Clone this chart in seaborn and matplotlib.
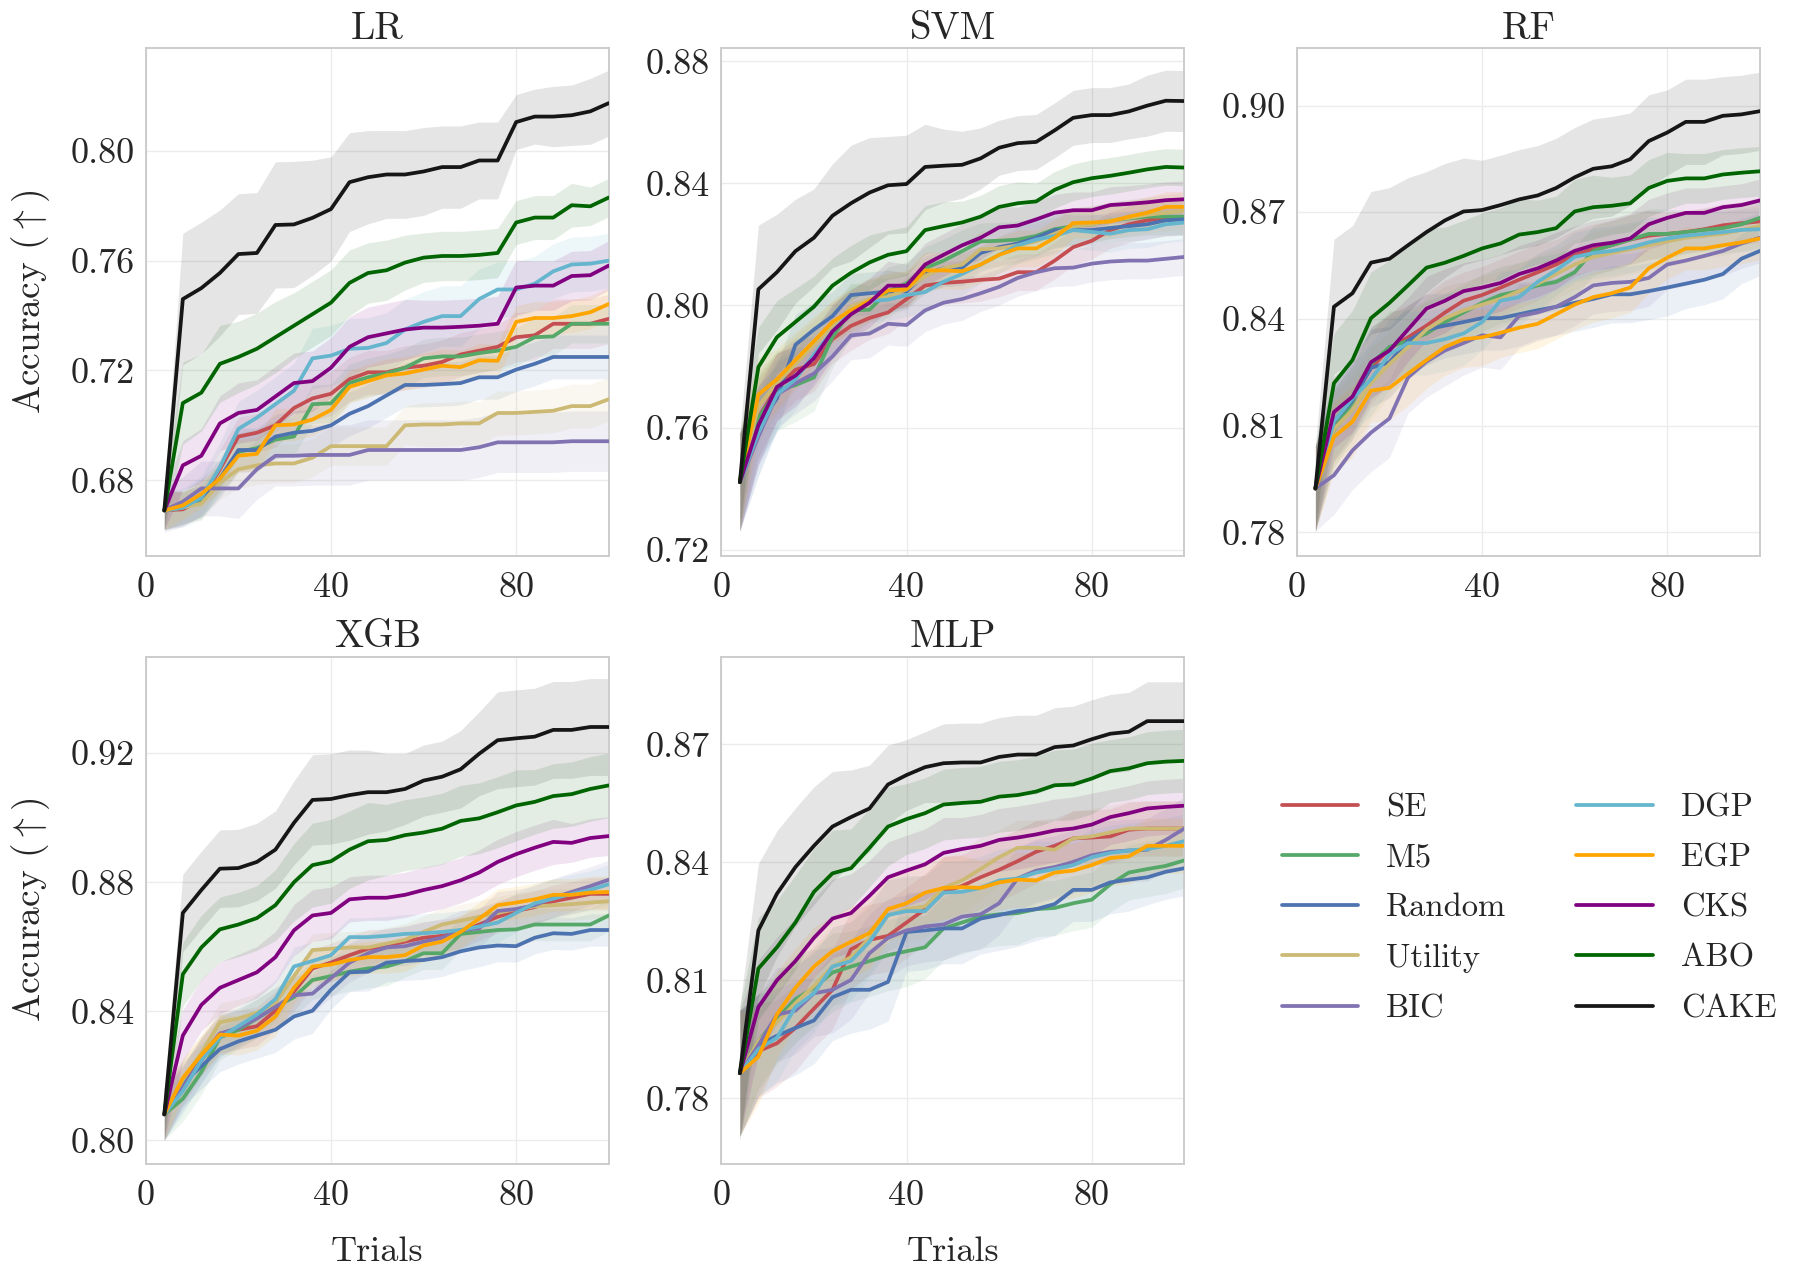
import matplotlib
matplotlib.use("Agg")
import matplotlib.pyplot as plt
from matplotlib.lines import Line2D
import numpy as np
import pandas as pd
import seaborn as sns

# ---------------- data ----------------
TRIALS = [4, 8, 12, 16, 20, 24, 28, 32, 36, 40, 44, 48, 52, 56, 60, 64, 68, 72, 76, 80, 84, 88, 92, 96, 100]
METHODS = ["SE", "M5", "Random", "Utility", "BIC", "DGP", "EGP", "CKS", "ABO", "CAKE"]
PANELS = ["LR", "SVM", "RF", "XGB", "MLP"]

LR_MEAN = {
    "SE": [0.669, 0.6694, 0.6729, 0.684, 0.6959, 0.6973, 0.700, 0.7063, 0.7098, 0.7115, 0.7168, 0.7193, 0.7193, 0.721, 0.7217, 0.7231, 0.7258, 0.7272, 0.7286, 0.7321, 0.7328, 0.737, 0.737, 0.737, 0.7388],
    "M5": [0.669, 0.670, 0.6722, 0.6806, 0.6903, 0.6917, 0.6948, 0.6959, 0.7077, 0.708, 0.7154, 0.7175, 0.7189, 0.721, 0.7244, 0.7251, 0.7251, 0.7263, 0.7272, 0.7286, 0.7321, 0.7324, 0.737, 0.737, 0.737],
    "Random": [0.669, 0.670, 0.6736, 0.6806, 0.691, 0.691, 0.6959, 0.6973, 0.698, 0.700, 0.7042, 0.707, 0.7109, 0.7147, 0.7147, 0.715, 0.7154, 0.7175, 0.7175, 0.7203, 0.7224, 0.7249, 0.7249, 0.7249, 0.7249],
    "Utility": [0.669, 0.670, 0.6715, 0.6791, 0.684, 0.6854, 0.6861, 0.6861, 0.6882, 0.6924, 0.6924, 0.6924, 0.6924, 0.700, 0.7003, 0.7003, 0.7007, 0.7007, 0.7045, 0.7045, 0.7049, 0.7053, 0.707, 0.707, 0.7095],
    "BIC": [0.669, 0.6722, 0.677, 0.677, 0.677, 0.684, 0.6889, 0.6889, 0.6892, 0.6892, 0.6892, 0.691, 0.691, 0.691, 0.691, 0.691, 0.691, 0.692, 0.6938, 0.6938, 0.6938, 0.6938, 0.6942, 0.6942, 0.6942],
    "DGP": [0.669, 0.670, 0.6736, 0.6847, 0.6987, 0.7028, 0.7077, 0.7126, 0.7244, 0.7254, 0.7279, 0.7282, 0.730, 0.7349, 0.7377, 0.7398, 0.7398, 0.746, 0.7495, 0.7495, 0.7516, 0.7561, 0.7586, 0.7589, 0.760],
    "EGP": [0.669, 0.6708, 0.675, 0.6806, 0.6889, 0.6896, 0.700, 0.7003, 0.7021, 0.7056, 0.714, 0.7161, 0.7182, 0.7189, 0.7203, 0.7217, 0.7212, 0.7237, 0.7235, 0.7377, 0.7391, 0.7391, 0.7398, 0.7412, 0.7442],
    "CKS": [0.669, 0.6854, 0.6889, 0.7007, 0.7045, 0.7056, 0.7105, 0.7154, 0.7161, 0.721, 0.7286, 0.7321, 0.7335, 0.7349, 0.7356, 0.7356, 0.7359, 0.7363, 0.737, 0.7502, 0.7509, 0.7509, 0.7544, 0.7547, 0.7582],
    "ABO": [0.669, 0.7081, 0.7119, 0.7224, 0.7249, 0.7279, 0.7321, 0.7363, 0.7405, 0.7447, 0.7519, 0.7555, 0.7565, 0.7593, 0.7611, 0.7617, 0.7617, 0.7621, 0.7628, 0.7739, 0.7757, 0.7757, 0.7802, 0.7798, 0.783],
    "CAKE": [0.669, 0.746, 0.750, 0.7555, 0.7624, 0.7628, 0.773, 0.7732, 0.7756, 0.7788, 0.7886, 0.7904, 0.7914, 0.7914, 0.7925, 0.7941, 0.7941, 0.7965, 0.7965, 0.8105, 0.8125, 0.8125, 0.813, 0.8144, 0.8174],
}
LR_STD = {
    "SE": [0.007, 0.006, 0.006, 0.007, 0.007, 0.007, 0.008, 0.008, 0.008, 0.008, 0.008, 0.008, 0.008, 0.008, 0.008, 0.008, 0.008, 0.008, 0.008, 0.009, 0.009, 0.009, 0.009, 0.009, 0.009],
    "M5": [0.007, 0.006, 0.006, 0.006, 0.007, 0.007, 0.007, 0.007, 0.007, 0.007, 0.007, 0.007, 0.007, 0.007, 0.007, 0.007, 0.007, 0.007, 0.007, 0.007, 0.007, 0.007, 0.007, 0.007, 0.007],
    "Random": [0.007, 0.006, 0.007, 0.007, 0.008, 0.008, 0.008, 0.008, 0.008, 0.008, 0.008, 0.008, 0.008, 0.008, 0.008, 0.008, 0.008, 0.008, 0.008, 0.008, 0.008, 0.008, 0.008, 0.008, 0.008],
    "Utility": [0.007, 0.006, 0.006, 0.006, 0.007, 0.007, 0.007, 0.007, 0.007, 0.007, 0.007, 0.007, 0.007, 0.007, 0.008, 0.008, 0.008, 0.008, 0.008, 0.008, 0.008, 0.008, 0.008, 0.008, 0.008],
    "BIC": [0.008, 0.009, 0.010, 0.010, 0.011, 0.011, 0.011, 0.011, 0.011, 0.011, 0.011, 0.011, 0.011, 0.011, 0.011, 0.011, 0.011, 0.011, 0.011, 0.011, 0.011, 0.011, 0.011, 0.011, 0.011],
    "DGP": [0.007, 0.007, 0.008, 0.009, 0.010, 0.010, 0.010, 0.010, 0.011, 0.011, 0.011, 0.011, 0.011, 0.011, 0.011, 0.011, 0.011, 0.011, 0.010, 0.010, 0.010, 0.010, 0.010, 0.010, 0.010],
    "EGP": [0.007, 0.005, 0.005, 0.005, 0.006, 0.006, 0.006, 0.006, 0.006, 0.006, 0.006, 0.006, 0.006, 0.006, 0.006, 0.006, 0.006, 0.006, 0.006, 0.006, 0.006, 0.006, 0.006, 0.006, 0.006],
    "CKS": [0.007, 0.009, 0.010, 0.010, 0.011, 0.011, 0.011, 0.011, 0.011, 0.011, 0.011, 0.011, 0.011, 0.011, 0.010, 0.010, 0.010, 0.010, 0.010, 0.010, 0.009, 0.009, 0.009, 0.009, 0.009],
    "ABO": [0.007, 0.015, 0.014, 0.014, 0.013, 0.013, 0.013, 0.012, 0.012, 0.012, 0.012, 0.011, 0.011, 0.010, 0.009, 0.009, 0.009, 0.009, 0.009, 0.008, 0.008, 0.008, 0.008, 0.007, 0.007],
    "CAKE": [0.007, 0.024, 0.024, 0.023, 0.022, 0.022, 0.023, 0.023, 0.021, 0.019, 0.018, 0.017, 0.016, 0.016, 0.016, 0.015, 0.015, 0.014, 0.014, 0.010, 0.010, 0.011, 0.011, 0.012, 0.012],
}

SVM_MEAN = {
    "SE": [0.7421, 0.7632, 0.7733, 0.7789, 0.7808, 0.789, 0.7933, 0.7959, 0.7977, 0.8021, 0.8065, 0.8074, 0.8078, 0.8084, 0.8088, 0.8109, 0.8109, 0.8147, 0.8191, 0.8212, 0.8247, 0.8266, 0.8279, 0.8287, 0.8291],
    "M5": [0.7421, 0.7632, 0.772, 0.7739, 0.7764, 0.7896, 0.7984, 0.7986, 0.8046, 0.8072, 0.8122, 0.8147, 0.8178, 0.821, 0.8212, 0.8216, 0.8228, 0.825, 0.826, 0.8266, 0.8279, 0.8285, 0.8291, 0.8291, 0.8291],
    "Random": [0.7421, 0.7607, 0.7695, 0.7871, 0.7921, 0.7965, 0.8034, 0.804, 0.8046, 0.8046, 0.8103, 0.8122, 0.8124, 0.8172, 0.8191, 0.8203, 0.8222, 0.8247, 0.8247, 0.8247, 0.8254, 0.826, 0.8266, 0.8279, 0.8282],
    "Utility": [0.7421, 0.767, 0.7745, 0.7808, 0.7871, 0.7933, 0.7996, 0.8021, 0.8028, 0.8053, 0.8097, 0.8122, 0.8134, 0.8184, 0.8187, 0.8197, 0.821, 0.8235, 0.826, 0.8266, 0.8279, 0.8287, 0.8297, 0.8304, 0.831],
    "BIC": [0.7421, 0.757, 0.7708, 0.7745, 0.7777, 0.7833, 0.7902, 0.7908, 0.794, 0.7936, 0.7984, 0.8009, 0.8021, 0.804, 0.8061, 0.809, 0.8109, 0.8122, 0.8124, 0.8137, 0.8144, 0.8147, 0.8147, 0.8153, 0.8159],
    "DGP": [0.7421, 0.7582, 0.7708, 0.7758, 0.7839, 0.7915, 0.7977, 0.8015, 0.8019, 0.8034, 0.8044, 0.8078, 0.8103, 0.8134, 0.8166, 0.8197, 0.8216, 0.8228, 0.8247, 0.8241, 0.8235, 0.8247, 0.825, 0.8266, 0.8272],
    "EGP": [0.7421, 0.7708, 0.7758, 0.7821, 0.7883, 0.7946, 0.7984, 0.8015, 0.8049, 0.8053, 0.8115, 0.8115, 0.8112, 0.8134, 0.8166, 0.8187, 0.8187, 0.8222, 0.827, 0.8272, 0.8275, 0.8291, 0.8304, 0.8323, 0.8323],
    "CKS": [0.7421, 0.7607, 0.7733, 0.777, 0.7827, 0.7915, 0.7971, 0.8009, 0.8065, 0.8065, 0.8134, 0.8166, 0.8197, 0.8222, 0.8256, 0.8262, 0.8282, 0.8304, 0.8312, 0.8312, 0.8329, 0.8333, 0.8338, 0.8345, 0.8348],
    "ABO": [0.7421, 0.7798, 0.7896, 0.7946, 0.7996, 0.8065, 0.8107, 0.8141, 0.8166, 0.8178, 0.8247, 0.826, 0.8272, 0.8291, 0.8323, 0.8335, 0.8341, 0.8379, 0.8404, 0.8417, 0.8425, 0.8435, 0.8446, 0.8454, 0.8452],
    "CAKE": [0.7421, 0.8053, 0.8109, 0.8178, 0.8222, 0.8294, 0.8335, 0.837, 0.8394, 0.8398, 0.8454, 0.8458, 0.8461, 0.8482, 0.8517, 0.8532, 0.8536, 0.8574, 0.8615, 0.8624, 0.8624, 0.8636, 0.8655, 0.8671, 0.867],
}
SVM_STD = {
    "SE": [0.016, 0.013, 0.011, 0.010, 0.009, 0.008, 0.008, 0.007, 0.007, 0.007, 0.007, 0.007, 0.007, 0.007, 0.006, 0.006, 0.006, 0.006, 0.006, 0.006, 0.006, 0.006, 0.006, 0.006, 0.006],
    "M5": [0.016, 0.014, 0.013, 0.012, 0.011, 0.010, 0.009, 0.008, 0.008, 0.007, 0.007, 0.007, 0.007, 0.006, 0.006, 0.006, 0.006, 0.006, 0.006, 0.006, 0.006, 0.006, 0.006, 0.006, 0.006],
    "Random": [0.016, 0.013, 0.011, 0.010, 0.009, 0.008, 0.007, 0.007, 0.007, 0.006, 0.006, 0.006, 0.006, 0.006, 0.006, 0.006, 0.006, 0.006, 0.005, 0.005, 0.005, 0.005, 0.005, 0.005, 0.005],
    "Utility": [0.016, 0.012, 0.010, 0.009, 0.008, 0.008, 0.007, 0.007, 0.007, 0.006, 0.006, 0.006, 0.006, 0.006, 0.006, 0.006, 0.006, 0.006, 0.006, 0.006, 0.006, 0.006, 0.006, 0.006, 0.006],
    "BIC": [0.016, 0.013, 0.011, 0.010, 0.009, 0.008, 0.008, 0.008, 0.007, 0.007, 0.007, 0.007, 0.007, 0.006, 0.006, 0.006, 0.006, 0.006, 0.006, 0.006, 0.006, 0.006, 0.006, 0.006, 0.006],
    "DGP": [0.016, 0.014, 0.012, 0.010, 0.009, 0.008, 0.008, 0.007, 0.007, 0.007, 0.007, 0.007, 0.007, 0.006, 0.006, 0.006, 0.006, 0.006, 0.006, 0.006, 0.006, 0.006, 0.006, 0.006, 0.006],
    "EGP": [0.016, 0.012, 0.010, 0.009, 0.008, 0.007, 0.007, 0.007, 0.006, 0.006, 0.006, 0.006, 0.006, 0.006, 0.006, 0.006, 0.006, 0.006, 0.005, 0.005, 0.005, 0.005, 0.005, 0.005, 0.005],
    "CKS": [0.016, 0.013, 0.011, 0.010, 0.009, 0.009, 0.008, 0.008, 0.008, 0.007, 0.007, 0.007, 0.007, 0.007, 0.007, 0.006, 0.006, 0.006, 0.006, 0.006, 0.006, 0.006, 0.006, 0.006, 0.006],
    "ABO": [0.016, 0.013, 0.012, 0.011, 0.010, 0.009, 0.009, 0.009, 0.008, 0.008, 0.008, 0.008, 0.007, 0.007, 0.007, 0.007, 0.006, 0.006, 0.006, 0.006, 0.006, 0.006, 0.006, 0.006, 0.006],
    "CAKE": [0.016, 0.021, 0.019, 0.017, 0.016, 0.017, 0.019, 0.018, 0.016, 0.016, 0.014, 0.012, 0.011, 0.010, 0.009, 0.009, 0.009, 0.009, 0.009, 0.009, 0.009, 0.009, 0.010, 0.010, 0.010],
}

RF_MEAN = {
    "SE": [0.7923, 0.810, 0.8176, 0.8262, 0.8316, 0.8348, 0.8381, 0.8418, 0.8451, 0.8467, 0.8488, 0.851, 0.8531, 0.8553, 0.858, 0.8596, 0.8607, 0.8623, 0.8634, 0.8639, 0.8644, 0.8652, 0.8663, 0.8669, 0.8674],
    "M5": [0.7923, 0.809, 0.8165, 0.8273, 0.8321, 0.8338, 0.8359, 0.8391, 0.8418, 0.8445, 0.8467, 0.8478, 0.8494, 0.8504, 0.8531, 0.8591, 0.8607, 0.8623, 0.8639, 0.8639, 0.8644, 0.865, 0.8655, 0.8666, 0.8684],
    "Random": [0.7923, 0.8111, 0.8171, 0.8262, 0.8278, 0.8338, 0.837, 0.8381, 0.8391, 0.8402, 0.8402, 0.8413, 0.8424, 0.8434, 0.8445, 0.8456, 0.8469, 0.8469, 0.8478, 0.8488, 0.8499, 0.851, 0.8526, 0.8569, 0.8591],
    "Utility": [0.7923, 0.809, 0.8144, 0.8219, 0.8273, 0.8321, 0.837, 0.8402, 0.8424, 0.844, 0.8456, 0.8478, 0.8499, 0.8526, 0.8553, 0.8574, 0.8585, 0.8596, 0.8607, 0.8618, 0.8628, 0.8634, 0.8639, 0.865, 0.8661],
    "BIC": [0.7923, 0.796, 0.803, 0.808, 0.812, 0.8235, 0.828, 0.8311, 0.8332, 0.8354, 0.8348, 0.8408, 0.8418, 0.8434, 0.8461, 0.8494, 0.8501, 0.8504, 0.8515, 0.8553, 0.8564, 0.8577, 0.8591, 0.8612, 0.8628],
    "DGP": [0.7923, 0.8111, 0.8176, 0.823, 0.830, 0.8332, 0.8332, 0.8343, 0.8359, 0.8391, 0.8451, 0.8461, 0.8504, 0.8537, 0.8574, 0.8585, 0.8591, 0.8601, 0.8615, 0.8626, 0.8634, 0.8639, 0.8644, 0.865, 0.8652],
    "EGP": [0.7923, 0.8068, 0.8111, 0.8198, 0.8206, 0.8246, 0.8284, 0.8321, 0.8343, 0.8348, 0.8361, 0.8375, 0.8386, 0.8413, 0.844, 0.8461, 0.8472, 0.8488, 0.8542, 0.8572, 0.8598, 0.8598, 0.8607, 0.8615, 0.8626],
    "CKS": [0.7923, 0.8138, 0.8181, 0.8278, 0.8311, 0.837, 0.8429, 0.8451, 0.8478, 0.8488, 0.8501, 0.8526, 0.8542, 0.8564, 0.8591, 0.8607, 0.8614, 0.8626, 0.8666, 0.8684, 0.8698, 0.8698, 0.8714, 0.872, 0.8733],
    "ABO": [0.7923, 0.8219, 0.8284, 0.8402, 0.8445, 0.8494, 0.8544, 0.8558, 0.8577, 0.8598, 0.8612, 0.8637, 0.8644, 0.8655, 0.8702, 0.8714, 0.8718, 0.8725, 0.8768, 0.8788, 0.8795, 0.8795, 0.8806, 0.8811, 0.8815],
    "CAKE": [0.7923, 0.8434, 0.8472, 0.8558, 0.8569, 0.8607, 0.8644, 0.8677, 0.8702, 0.8706, 0.872, 0.8736, 0.8747, 0.8768, 0.8798, 0.8822, 0.8829, 0.8849, 0.890, 0.8924, 0.8954, 0.8954, 0.8971, 0.8975, 0.8984],
}
RF_STD = {
    "SE": [0.012, 0.010, 0.010, 0.010, 0.010, 0.009, 0.009, 0.009, 0.008, 0.008, 0.008, 0.008, 0.008, 0.007, 0.007, 0.007, 0.007, 0.007, 0.007, 0.006, 0.006, 0.006, 0.006, 0.006, 0.006],
    "M5": [0.012, 0.011, 0.010, 0.010, 0.010, 0.009, 0.009, 0.008, 0.008, 0.008, 0.008, 0.008, 0.008, 0.008, 0.007, 0.007, 0.007, 0.007, 0.007, 0.007, 0.006, 0.006, 0.006, 0.006, 0.006],
    "Random": [0.012, 0.011, 0.011, 0.011, 0.010, 0.010, 0.010, 0.009, 0.009, 0.009, 0.009, 0.009, 0.008, 0.008, 0.008, 0.008, 0.008, 0.008, 0.008, 0.008, 0.007, 0.007, 0.007, 0.007, 0.007],
    "Utility": [0.012, 0.010, 0.010, 0.010, 0.009, 0.009, 0.009, 0.009, 0.008, 0.008, 0.008, 0.008, 0.008, 0.007, 0.007, 0.007, 0.007, 0.007, 0.007, 0.007, 0.007, 0.006, 0.006, 0.006, 0.006],
    "BIC": [0.012, 0.011, 0.011, 0.011, 0.011, 0.010, 0.010, 0.010, 0.009, 0.009, 0.009, 0.009, 0.008, 0.008, 0.008, 0.008, 0.008, 0.008, 0.008, 0.007, 0.007, 0.007, 0.007, 0.007, 0.007],
    "DGP": [0.012, 0.010, 0.010, 0.010, 0.010, 0.009, 0.009, 0.009, 0.009, 0.008, 0.008, 0.008, 0.008, 0.007, 0.007, 0.007, 0.007, 0.007, 0.007, 0.006, 0.006, 0.006, 0.006, 0.006, 0.006],
    "EGP": [0.012, 0.010, 0.010, 0.009, 0.009, 0.009, 0.008, 0.008, 0.008, 0.008, 0.007, 0.007, 0.007, 0.007, 0.007, 0.007, 0.007, 0.007, 0.007, 0.006, 0.006, 0.006, 0.006, 0.006, 0.006],
    "CKS": [0.012, 0.010, 0.010, 0.010, 0.010, 0.009, 0.009, 0.009, 0.008, 0.008, 0.008, 0.008, 0.008, 0.008, 0.007, 0.007, 0.007, 0.007, 0.007, 0.007, 0.007, 0.007, 0.006, 0.006, 0.006],
    "ABO": [0.012, 0.014, 0.014, 0.013, 0.012, 0.012, 0.011, 0.010, 0.010, 0.010, 0.010, 0.010, 0.009, 0.009, 0.009, 0.009, 0.008, 0.008, 0.008, 0.008, 0.007, 0.007, 0.007, 0.007, 0.007],
    "CAKE": [0.012, 0.019, 0.019, 0.020, 0.020, 0.019, 0.017, 0.016, 0.015, 0.014, 0.014, 0.014, 0.014, 0.014, 0.014, 0.014, 0.014, 0.013, 0.013, 0.012, 0.012, 0.012, 0.011, 0.011, 0.011],
}

XGB_MEAN = {
    "SE": [0.8081, 0.817, 0.8259, 0.8331, 0.8343, 0.8354, 0.8402, 0.8461, 0.8533, 0.8551, 0.8574, 0.8594, 0.8604, 0.8616, 0.8628, 0.8634, 0.8646, 0.8669, 0.8693, 0.8711, 0.8723, 0.8741, 0.8752, 0.8764, 0.8764],
    "M5": [0.8081, 0.8129, 0.8212, 0.8319, 0.8343, 0.8378, 0.8414, 0.8444, 0.8497, 0.8509, 0.8523, 0.8533, 0.8539, 0.8556, 0.858, 0.858, 0.864, 0.8646, 0.8652, 0.8654, 0.8669, 0.8669, 0.8669, 0.8669, 0.8697],
    "Random": [0.8081, 0.8176, 0.823, 0.8283, 0.8307, 0.8325, 0.8343, 0.8384, 0.8402, 0.8467, 0.8521, 0.8523, 0.8551, 0.8556, 0.8559, 0.8568, 0.8586, 0.8598, 0.8604, 0.8602, 0.8628, 0.8642, 0.864, 0.8652, 0.8652],
    "Utility": [0.8081, 0.8188, 0.8271, 0.8366, 0.8378, 0.8396, 0.8426, 0.8509, 0.859, 0.8594, 0.8598, 0.8598, 0.861, 0.8622, 0.8646, 0.8669, 0.8681, 0.8693, 0.8705, 0.8717, 0.8725, 0.8729, 0.8732, 0.8737, 0.8741],
    "BIC": [0.8081, 0.8164, 0.8248, 0.8331, 0.8349, 0.8378, 0.8414, 0.845, 0.8455, 0.8503, 0.8551, 0.858, 0.8598, 0.8602, 0.8616, 0.8628, 0.8652, 0.8657, 0.8711, 0.8717, 0.8729, 0.8752, 0.877, 0.8788, 0.8808],
    "DGP": [0.8081, 0.8153, 0.8248, 0.8319, 0.8354, 0.839, 0.8438, 0.8539, 0.8556, 0.8574, 0.863, 0.863, 0.8634, 0.864, 0.8642, 0.8646, 0.8652, 0.8663, 0.8675, 0.8705, 0.8735, 0.8749, 0.8764, 0.8776, 0.8794],
    "EGP": [0.8081, 0.8194, 0.8265, 0.8328, 0.8325, 0.834, 0.8384, 0.8473, 0.8539, 0.8545, 0.8559, 0.8568, 0.8568, 0.8574, 0.8604, 0.8616, 0.8646, 0.8687, 0.8729, 0.8737, 0.8747, 0.8761, 0.8761, 0.8768, 0.877],
    "CKS": [0.8081, 0.8325, 0.842, 0.8473, 0.8497, 0.8521, 0.8568, 0.8651, 0.8697, 0.8705, 0.8747, 0.8752, 0.8752, 0.8761, 0.8776, 0.8788, 0.8806, 0.883, 0.8863, 0.8887, 0.8907, 0.8925, 0.8922, 0.8937, 0.8943],
    "ABO": [0.8081, 0.8515, 0.8598, 0.8654, 0.8669, 0.8689, 0.8729, 0.880, 0.8853, 0.8865, 0.8901, 0.8927, 0.8931, 0.8946, 0.8954, 0.8966, 0.899, 0.8998, 0.9017, 0.9038, 0.9049, 0.9067, 0.9073, 0.9089, 0.910],
    "CAKE": [0.8081, 0.8705, 0.8776, 0.8842, 0.8844, 0.8863, 0.8901, 0.8984, 0.9055, 0.9058, 0.907, 0.9079, 0.9079, 0.9089, 0.9115, 0.9127, 0.915, 0.9198, 0.924, 0.9246, 0.9251, 0.9272, 0.9272, 0.9281, 0.9281],
}
XGB_STD = {
    "SE": [0.008, 0.006, 0.006, 0.006, 0.006, 0.006, 0.006, 0.006, 0.006, 0.006, 0.006, 0.006, 0.005, 0.005, 0.005, 0.005, 0.005, 0.005, 0.005, 0.005, 0.005, 0.005, 0.005, 0.005, 0.005],
    "M5": [0.008, 0.007, 0.007, 0.007, 0.006, 0.006, 0.006, 0.006, 0.006, 0.006, 0.006, 0.006, 0.006, 0.005, 0.005, 0.005, 0.005, 0.005, 0.005, 0.005, 0.005, 0.005, 0.005, 0.005, 0.005],
    "Random": [0.008, 0.007, 0.007, 0.007, 0.007, 0.007, 0.007, 0.007, 0.007, 0.006, 0.006, 0.006, 0.006, 0.006, 0.006, 0.006, 0.006, 0.006, 0.005, 0.005, 0.005, 0.005, 0.005, 0.005, 0.005],
    "Utility": [0.008, 0.006, 0.006, 0.006, 0.006, 0.006, 0.006, 0.006, 0.005, 0.005, 0.005, 0.005, 0.005, 0.005, 0.005, 0.005, 0.005, 0.005, 0.005, 0.005, 0.005, 0.005, 0.005, 0.005, 0.005],
    "BIC": [0.008, 0.007, 0.007, 0.007, 0.006, 0.006, 0.006, 0.006, 0.006, 0.006, 0.006, 0.006, 0.006, 0.006, 0.006, 0.006, 0.006, 0.006, 0.006, 0.006, 0.006, 0.006, 0.006, 0.006, 0.006],
    "DGP": [0.008, 0.007, 0.007, 0.006, 0.006, 0.006, 0.006, 0.006, 0.006, 0.006, 0.006, 0.006, 0.006, 0.006, 0.006, 0.006, 0.006, 0.006, 0.006, 0.006, 0.006, 0.006, 0.006, 0.006, 0.006],
    "EGP": [0.008, 0.006, 0.006, 0.006, 0.006, 0.006, 0.006, 0.005, 0.005, 0.005, 0.005, 0.005, 0.005, 0.005, 0.005, 0.005, 0.005, 0.005, 0.005, 0.005, 0.005, 0.005, 0.005, 0.005, 0.005],
    "CKS": [0.008, 0.008, 0.008, 0.008, 0.008, 0.008, 0.008, 0.008, 0.008, 0.008, 0.007, 0.007, 0.007, 0.007, 0.007, 0.007, 0.007, 0.007, 0.007, 0.007, 0.007, 0.007, 0.006, 0.006, 0.006],
    "ABO": [0.008, 0.010, 0.010, 0.010, 0.010, 0.010, 0.011, 0.012, 0.013, 0.013, 0.012, 0.012, 0.011, 0.011, 0.011, 0.011, 0.011, 0.011, 0.011, 0.011, 0.010, 0.010, 0.010, 0.010, 0.010],
    "CAKE": [0.008, 0.012, 0.012, 0.012, 0.012, 0.012, 0.012, 0.013, 0.014, 0.014, 0.014, 0.013, 0.012, 0.011, 0.011, 0.011, 0.012, 0.013, 0.015, 0.015, 0.015, 0.015, 0.015, 0.015, 0.015],
}

MLP_MEAN = {
    "SE": [0.7864, 0.792, 0.794, 0.7979, 0.8028, 0.8076, 0.8179, 0.8203, 0.8213, 0.8247, 0.8281, 0.8325, 0.834, 0.8362, 0.8381, 0.8403, 0.8427, 0.8442, 0.8461, 0.8463, 0.8466, 0.8483, 0.8486, 0.8486, 0.8486],
    "M5": [0.7864, 0.7945, 0.8003, 0.8052, 0.8081, 0.812, 0.8135, 0.8149, 0.8164, 0.8174, 0.8184, 0.8232, 0.8247, 0.8262, 0.8268, 0.8271, 0.8281, 0.8284, 0.8296, 0.8305, 0.8344, 0.8374, 0.8383, 0.8391, 0.8405],
    "Random": [0.7864, 0.7935, 0.7959, 0.7979, 0.7998, 0.8057, 0.8076, 0.8076, 0.8096, 0.8223, 0.8227, 0.8232, 0.8232, 0.8257, 0.8266, 0.8276, 0.8281, 0.8294, 0.833, 0.833, 0.8349, 0.8356, 0.8362, 0.8376, 0.8385],
    "Utility": [0.7864, 0.7945, 0.7993, 0.8042, 0.8086, 0.8135, 0.8159, 0.8208, 0.8266, 0.8281, 0.8288, 0.8335, 0.8354, 0.8383, 0.8413, 0.8437, 0.8437, 0.8432, 0.8461, 0.8466, 0.8476, 0.8486, 0.8486, 0.8486, 0.8486],
    "BIC": [0.7864, 0.7935, 0.8013, 0.8023, 0.8067, 0.8076, 0.8101, 0.8169, 0.8208, 0.8227, 0.8237, 0.8242, 0.8262, 0.8268, 0.8296, 0.8359, 0.8379, 0.8388, 0.8401, 0.8418, 0.8427, 0.843, 0.8432, 0.8457, 0.8486],
    "DGP": [0.7864, 0.7925, 0.7954, 0.8032, 0.8067, 0.8135, 0.8149, 0.8198, 0.8266, 0.8276, 0.8276, 0.8323, 0.8325, 0.8335, 0.8354, 0.8359, 0.8374, 0.8383, 0.8393, 0.8413, 0.8424, 0.843, 0.8434, 0.8442, 0.8454],
    "EGP": [0.7864, 0.7906, 0.8013, 0.8081, 0.8135, 0.8174, 0.8198, 0.822, 0.8281, 0.8296, 0.8323, 0.8335, 0.8337, 0.8335, 0.8349, 0.8356, 0.8354, 0.8374, 0.8379, 0.8393, 0.8411, 0.8415, 0.8442, 0.8442, 0.8442],
    "CKS": [0.7864, 0.8032, 0.810, 0.8149, 0.8208, 0.8257, 0.8271, 0.8315, 0.8362, 0.8379, 0.8395, 0.8424, 0.8434, 0.8442, 0.8457, 0.8463, 0.8471, 0.8481, 0.8486, 0.8496, 0.8515, 0.8525, 0.8537, 0.8541, 0.8544],
    "ABO": [0.7864, 0.813, 0.8184, 0.8247, 0.8325, 0.8372, 0.8385, 0.8437, 0.8491, 0.851, 0.8525, 0.8547, 0.8551, 0.8554, 0.8567, 0.8571, 0.858, 0.8596, 0.8598, 0.8613, 0.8632, 0.8639, 0.8652, 0.8656, 0.8658],
    "CAKE": [0.7864, 0.8227, 0.832, 0.8388, 0.8442, 0.8491, 0.8515, 0.8537, 0.8598, 0.8622, 0.8642, 0.8652, 0.8654, 0.8654, 0.8668, 0.8674, 0.8674, 0.8693, 0.8697, 0.8713, 0.8727, 0.8732, 0.8759, 0.8759, 0.8759],
}
MLP_STD = {
    "SE": [0.016, 0.012, 0.011, 0.011, 0.010, 0.010, 0.010, 0.009, 0.009, 0.009, 0.009, 0.009, 0.008, 0.008, 0.008, 0.008, 0.008, 0.007, 0.007, 0.007, 0.007, 0.007, 0.007, 0.007, 0.007],
    "M5": [0.016, 0.012, 0.011, 0.011, 0.010, 0.010, 0.009, 0.009, 0.009, 0.009, 0.008, 0.008, 0.008, 0.008, 0.008, 0.008, 0.007, 0.007, 0.007, 0.007, 0.007, 0.007, 0.007, 0.007, 0.007],
    "Random": [0.016, 0.013, 0.012, 0.012, 0.011, 0.011, 0.011, 0.010, 0.010, 0.010, 0.010, 0.009, 0.009, 0.009, 0.009, 0.009, 0.008, 0.008, 0.008, 0.008, 0.008, 0.008, 0.007, 0.007, 0.007],
    "Utility": [0.016, 0.012, 0.011, 0.010, 0.010, 0.010, 0.009, 0.009, 0.009, 0.008, 0.008, 0.008, 0.008, 0.008, 0.007, 0.007, 0.007, 0.007, 0.007, 0.007, 0.007, 0.007, 0.007, 0.007, 0.007],
    "BIC": [0.016, 0.013, 0.012, 0.011, 0.011, 0.011, 0.010, 0.010, 0.010, 0.009, 0.009, 0.009, 0.009, 0.009, 0.008, 0.008, 0.008, 0.008, 0.008, 0.008, 0.008, 0.008, 0.008, 0.008, 0.008],
    "DGP": [0.016, 0.012, 0.011, 0.011, 0.010, 0.010, 0.010, 0.009, 0.009, 0.009, 0.009, 0.008, 0.008, 0.008, 0.008, 0.008, 0.008, 0.007, 0.007, 0.007, 0.007, 0.007, 0.007, 0.007, 0.007],
    "EGP": [0.016, 0.012, 0.011, 0.010, 0.010, 0.009, 0.009, 0.009, 0.008, 0.008, 0.008, 0.008, 0.008, 0.007, 0.007, 0.007, 0.007, 0.007, 0.007, 0.007, 0.007, 0.007, 0.007, 0.007, 0.007],
    "CKS": [0.016, 0.012, 0.011, 0.011, 0.010, 0.010, 0.010, 0.009, 0.009, 0.009, 0.009, 0.009, 0.008, 0.008, 0.008, 0.008, 0.008, 0.008, 0.008, 0.008, 0.007, 0.007, 0.007, 0.007, 0.007],
    "ABO": [0.017, 0.013, 0.012, 0.012, 0.011, 0.011, 0.010, 0.010, 0.010, 0.009, 0.009, 0.009, 0.009, 0.009, 0.009, 0.009, 0.009, 0.009, 0.009, 0.009, 0.008, 0.008, 0.008, 0.008, 0.008],
    "CAKE": [0.017, 0.017, 0.016, 0.015, 0.015, 0.014, 0.012, 0.011, 0.010, 0.009, 0.009, 0.010, 0.010, 0.010, 0.010, 0.010, 0.010, 0.010, 0.010, 0.010, 0.010, 0.010, 0.010, 0.010, 0.010],
}

X_TICKS = [0, 40, 80]
LR_YTICKS = [0.68, 0.72, 0.76, 0.80]
SVM_YTICKS = [0.72, 0.76, 0.80, 0.84, 0.88]
RF_YTICKS = [0.78, 0.81, 0.84, 0.87, 0.90]
XGB_YTICKS = [0.80, 0.84, 0.88, 0.92]
MLP_YTICKS = [0.78, 0.81, 0.84, 0.87]

LR_YLIM = (0.6525, 0.8374)
SVM_YLIM = (0.7180, 0.8843)
RF_YLIM = (0.7734, 0.9161)
XGB_YLIM = (0.7927, 0.9499)
MLP_YLIM = (0.7633, 0.8923)

# ---------------- style ----------------
COLORS = {
    "SE": "#C44E52", "M5": "#55A868", "Random": "#4C72B0", "Utility": "#CCB974",
    "BIC": "#8172B2", "DGP": "#64B5CD", "EGP": "#FFA500", "CKS": "#800080",
    "ABO": "#006400", "CAKE": "#161616",
}

sns.set_theme(style="whitegrid")
plt.rcParams["font.family"] = ["cmr10", "DejaVu Serif"]
plt.rcParams["mathtext.fontset"] = "cm"
plt.rcParams["axes.formatter.use_mathtext"] = True
plt.rcParams["axes.unicode_minus"] = False
FS = 26

panel_data = {
    "LR": (LR_MEAN, LR_STD, LR_YTICKS, LR_YLIM),
    "SVM": (SVM_MEAN, SVM_STD, SVM_YTICKS, SVM_YLIM),
    "RF": (RF_MEAN, RF_STD, RF_YTICKS, RF_YLIM),
    "XGB": (XGB_MEAN, XGB_STD, XGB_YTICKS, XGB_YLIM),
    "MLP": (MLP_MEAN, MLP_STD, MLP_YTICKS, MLP_YLIM),
}

fig, axes = plt.subplots(2, 3, figsize=(18, 12.8), dpi=100)
fig.subplots_adjust(left=0.0810, right=0.9777, top=0.9623, bottom=0.0906,
                    wspace=0.2432, hspace=0.199)

for idx, name in enumerate(PANELS):
    ax = axes.flat[idx]
    mean_d, std_d, yticks, ylim = panel_data[name]
    rows = []
    for m in METHODS:
        for t, v in zip(TRIALS, mean_d[m]):
            rows.append({"Trials": t, "Accuracy": v, "Method": m})
    df = pd.DataFrame(rows)
    for m in METHODS:
        mu = np.array(mean_d[m])
        sd = np.array(std_d[m])
        ax.fill_between(TRIALS, mu - sd, mu + sd, color=COLORS[m],
                        alpha=0.11, linewidth=0, zorder=1)
    sns.lineplot(data=df, x="Trials", y="Accuracy", hue="Method",
                 hue_order=METHODS, palette=COLORS, linewidth=2.7,
                 legend=False, errorbar=None, ax=ax, zorder=3)
    ax.set_xlim(0, 100)
    ax.set_ylim(*ylim)
    ax.set_xticks(X_TICKS)
    ax.set_xticklabels([str(x) for x in X_TICKS])
    ax.set_yticks(yticks)
    ax.set_yticklabels([f"{y:.2f}" for y in yticks])
    ax.tick_params(axis="y", labelsize=FS, pad=8, length=0, colors="#262626")
    ax.tick_params(axis="x", labelsize=FS, pad=12, length=0, colors="#262626")
    ax.grid(True, color="#ececec", linewidth=1.0)
    for sp in ax.spines.values():
        sp.set_color("#cccccc")
        sp.set_linewidth(1.4)
    ax.set_title(name, fontsize=FS + 2, pad=7, color="#262626")
    if idx in (0, 3):
        ax.set_ylabel(r"Accuracy $(\uparrow)$", fontsize=FS + 1, labelpad=13, color="#262626")
    else:
        ax.set_ylabel("")
    if idx in (3, 4):
        ax.set_xlabel("Trials", fontsize=FS, labelpad=17, color="#262626")
    else:
        ax.set_xlabel("")

axes.flat[5].axis("off")

handles = [Line2D([0], [0], color=COLORS[m], linewidth=2.7) for m in METHODS]
fig.legend(handles, METHODS, loc="center", bbox_to_anchor=(0.8495, 0.2906),
           ncol=2, frameon=False, fontsize=23.5, handlelength=2.35,
           handletextpad=0.85, columnspacing=2.15, labelspacing=0.65,
           labelcolor="#262626")

fig.savefig("out.png", dpi=100)
